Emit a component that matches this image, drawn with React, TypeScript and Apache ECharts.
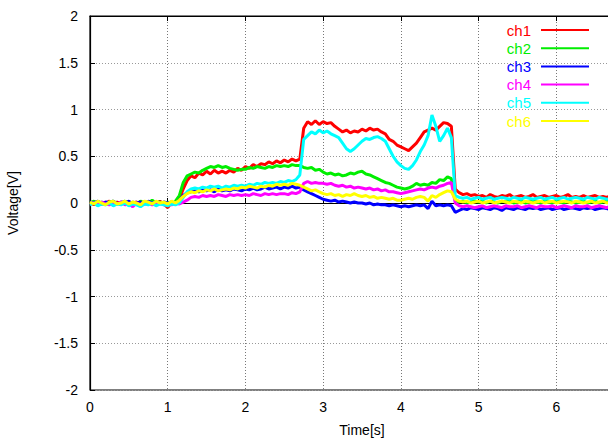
import React, { useEffect, useRef } from "react";
import * as echarts from "echarts";

const STEP = 0.05;
const channelNames = ["ch1", "ch2", "ch3", "ch4", "ch5", "ch6"];
const channelColors = ["#ff0000", "#00ee00", "#0000ff", "#ff00ff", "#00ffff", "#ffff00"];

const ch1 = [
  0.01, -0.02, 0.02, -0.01, 0.0, 0.02, -0.02, 0.01, -0.01, 0.02,
  -0.02, 0.0, 0.01, -0.03, 0.02, -0.01, 0.01, -0.02, 0.02, -0.01,
  -0.05, 0.01, -0.01, 0.05, 0.15, 0.24, 0.29, 0.27, 0.32, 0.3,
  0.34, 0.31, 0.35, 0.32, 0.34, 0.32, 0.35, 0.33, 0.37, 0.35,
  0.39, 0.37, 0.41, 0.39, 0.42, 0.41, 0.44, 0.42, 0.45, 0.43,
  0.46, 0.44, 0.47, 0.45, 0.47, 0.8, 0.87, 0.84, 0.88, 0.84,
  0.87, 0.85, 0.86, 0.82, 0.79, 0.76, 0.78, 0.75, 0.77, 0.76,
  0.79, 0.77, 0.8, 0.78, 0.79, 0.76, 0.74, 0.68, 0.66, 0.62,
  0.6, 0.58, 0.56, 0.6, 0.64, 0.7, 0.76, 0.78, 0.8, 0.78,
  0.82, 0.86, 0.85, 0.82, 0.15, 0.11, 0.09, 0.1, 0.08, 0.09,
  0.07, 0.08, 0.06, 0.09, 0.07, 0.06, 0.08, 0.07, 0.09, 0.06,
  0.07, 0.08, 0.06, 0.07, 0.09, 0.06, 0.07, 0.08, 0.06, 0.07,
  0.08, 0.06, 0.07, 0.09, 0.06, 0.07, 0.06, 0.08, 0.06, 0.07,
  0.08, 0.06, 0.07, 0.06, 0.08,
];

const ch2 = [
  0.0, 0.02, -0.01, 0.01, -0.02, 0.01, 0.02, -0.01, 0.0, 0.02,
  -0.01, 0.01, -0.02, 0.02, 0.0, -0.01, 0.03, 0.0, 0.01, -0.01,
  0.01, -0.01, 0.02, 0.08, 0.22, 0.29, 0.31, 0.33, 0.32, 0.35,
  0.37, 0.39, 0.38, 0.4, 0.38, 0.39, 0.37, 0.36, 0.35, 0.36,
  0.36, 0.38, 0.37, 0.39, 0.38, 0.37, 0.39, 0.38, 0.4, 0.39,
  0.4, 0.39, 0.41, 0.4, 0.4, 0.38, 0.37, 0.38, 0.35, 0.36,
  0.33, 0.31, 0.32, 0.3, 0.31, 0.29, 0.3, 0.32, 0.31, 0.33,
  0.34, 0.31, 0.3, 0.28, 0.26, 0.24, 0.22, 0.21, 0.19, 0.17,
  0.16, 0.15, 0.16, 0.18, 0.21, 0.19, 0.2, 0.19, 0.22, 0.21,
  0.25, 0.24, 0.28, 0.26, 0.03, 0.01, 0.02, 0.0, 0.01, 0.02,
  0.01, 0.02, 0.0, 0.02, 0.01, 0.0, 0.02, 0.01, 0.02, 0.0,
  0.01, 0.02, 0.0, 0.01, 0.02, 0.01, 0.0, 0.02, 0.01, 0.0,
  0.02, 0.01, 0.0, 0.02, 0.01, 0.0, 0.01, 0.02, 0.0, 0.01,
  0.02, 0.0, 0.01, 0.02, 0.01,
];

const ch3 = [
  0.01, 0.0, 0.02, -0.01, 0.01, 0.0, 0.02, -0.01, 0.01, 0.0,
  0.02, -0.01, 0.0, 0.01, -0.01, 0.02, 0.0, 0.01, -0.01, 0.01,
  0.0, 0.01, -0.01, 0.03, 0.08, 0.11, 0.12, 0.13, 0.12, 0.14,
  0.13, 0.14, 0.12, 0.15, 0.13, 0.14, 0.13, 0.15, 0.14, 0.13,
  0.15, 0.14, 0.16, 0.14, 0.15, 0.17, 0.15, 0.16, 0.17, 0.15,
  0.17, 0.16, 0.18, 0.16, 0.17, 0.14, 0.12, 0.1, 0.08, 0.06,
  0.04, 0.03, 0.02, 0.03, 0.01, 0.02, 0.01, 0.0, 0.01, 0.0,
  0.0, -0.01, 0.0, -0.02, -0.01, -0.02, -0.02, -0.03, -0.02, -0.03,
  -0.04, -0.03, -0.04, -0.03, -0.02, -0.03, -0.02, -0.06, 0.02, -0.03,
  -0.02, -0.03, -0.02, -0.03, -0.1, -0.08, -0.06, -0.07, -0.05, -0.06,
  -0.07, -0.05, -0.06, -0.07, -0.05, -0.06, -0.08, -0.05, -0.06, -0.07,
  -0.05, -0.06, -0.07, -0.05, -0.06, -0.05, -0.07, -0.06, -0.05, -0.07,
  -0.06, -0.05, -0.07, -0.06, -0.05, -0.06, -0.07, -0.05, -0.06, -0.05,
  -0.07, -0.06, -0.05, -0.06, -0.07,
];

const ch4 = [
  -0.01, 0.0, -0.02, 0.01, -0.01, -0.02, 0.0, -0.01, 0.01, -0.02,
  -0.01, -0.04, 0.0, -0.02, -0.01, 0.0, -0.02, -0.01, 0.0, -0.02,
  -0.01, -0.02, 0.0, -0.01, 0.01, 0.03, 0.06, 0.07, 0.06, 0.08,
  0.07, 0.08, 0.07, 0.09, 0.08, 0.07, 0.09, 0.08, 0.09, 0.08,
  0.09, 0.08, 0.1, 0.09, 0.08, 0.1, 0.09, 0.1, 0.09, 0.1,
  0.1, 0.09, 0.11, 0.1, 0.12, 0.21, 0.23, 0.21, 0.22, 0.21,
  0.21, 0.2, 0.21, 0.19, 0.18, 0.19, 0.17, 0.18, 0.16, 0.17,
  0.16, 0.15, 0.16, 0.14, 0.15, 0.13, 0.14, 0.12, 0.12, 0.11,
  0.1, 0.11, 0.12, 0.13, 0.14, 0.15, 0.14, 0.16, 0.17, 0.16,
  0.18, 0.19, 0.21, 0.22, 0.0, -0.03, -0.04, -0.03, -0.04, -0.05,
  -0.04, -0.03, -0.05, -0.04, -0.03, -0.04, -0.05, -0.03, -0.04, -0.04,
  -0.03, -0.05, -0.04, -0.03, -0.04, -0.05, -0.03, -0.04, -0.04, -0.03,
  -0.05, -0.04, -0.03, -0.04, -0.05, -0.03, -0.04, -0.04, -0.03, -0.05,
  -0.04, -0.03, -0.04, -0.05, -0.03,
];

const ch5 = [
  -0.02, 0.0, -0.03, -0.01, -0.02, 0.0, -0.03, -0.01, -0.02, 0.0,
  -0.03, -0.01, -0.02, -0.04, -0.01, -0.02, 0.0, -0.03, -0.01, -0.02,
  -0.03, -0.01, -0.02, 0.0, 0.06, 0.12, 0.15, 0.16, 0.15, 0.17,
  0.16, 0.18, 0.17, 0.18, 0.16, 0.18, 0.17, 0.19, 0.18, 0.19,
  0.18, 0.2, 0.19, 0.21, 0.2, 0.22, 0.21, 0.22, 0.21, 0.23,
  0.22, 0.24, 0.23, 0.25, 0.3, 0.68, 0.72, 0.76, 0.74, 0.78,
  0.75, 0.77, 0.74, 0.72, 0.7, 0.64, 0.58, 0.55, 0.58, 0.62,
  0.66, 0.69, 0.68, 0.7, 0.71, 0.69, 0.66, 0.58, 0.5, 0.44,
  0.4, 0.37, 0.36, 0.4, 0.46, 0.55, 0.62, 0.72, 0.94, 0.82,
  0.66, 0.72, 0.8, 0.7, 0.08, 0.06, 0.05, 0.06, 0.04, 0.05,
  0.06, 0.04, 0.05, 0.06, 0.04, 0.05, 0.06, 0.05, 0.04, 0.06,
  0.05, 0.04, 0.06, 0.05, 0.04, 0.05, 0.06, 0.04, 0.05, 0.06,
  0.04, 0.05, 0.06, 0.04, 0.05, 0.06, 0.05, 0.04, 0.06, 0.05,
  0.04, 0.06, 0.05, 0.04, 0.05,
];

const ch6 = [
  0.01, -0.01, 0.02, 0.0, -0.02, 0.01, 0.02, -0.01, 0.0, 0.02,
  -0.01, 0.01, 0.0, -0.02, 0.02, 0.01, -0.01, 0.02, 0.0, 0.01,
  -0.01, 0.02, 0.0, 0.03, 0.07, 0.1, 0.12, 0.11, 0.13, 0.12,
  0.14, 0.13, 0.15, 0.13, 0.14, 0.15, 0.14, 0.16, 0.15, 0.17,
  0.16, 0.18, 0.17, 0.16, 0.18, 0.17, 0.19, 0.18, 0.2, 0.19,
  0.2, 0.19, 0.21, 0.2, 0.19, 0.17, 0.15, 0.13, 0.14, 0.12,
  0.1, 0.09, 0.1, 0.08, 0.09, 0.07, 0.09, 0.08, 0.1, 0.08,
  0.07, 0.08, 0.06, 0.07, 0.05, 0.06, 0.05, 0.04, 0.05, 0.03,
  0.03, 0.04, 0.05, 0.04, 0.06, 0.07, 0.06, 0.02, 0.08, 0.06,
  0.09, 0.11, 0.13, 0.12, 0.04, 0.02, 0.01, 0.02, 0.0, 0.01,
  0.02, 0.0, 0.01, 0.02, 0.0, 0.01, 0.02, 0.01, 0.0, 0.02,
  0.01, 0.0, 0.02, 0.01, 0.0, 0.01, 0.02, 0.0, 0.01, 0.02,
  0.0, 0.01, 0.02, 0.01, 0.0, 0.02, 0.01, 0.0, 0.01, 0.02,
  0.0, 0.01, 0.02, 0.0, 0.01,
];

const channels = [ch1, ch2, ch3, ch4, ch5, ch6];

const FONT = "'Liberation Sans', Arial, Helvetica, sans-serif";

export default function App() {
  const ref = useRef<HTMLDivElement>(null);

  useEffect(() => {
    if (!ref.current) return;
    const chart = echarts.init(ref.current, null, { renderer: "svg" });

    const series = channels.map((vals, k) => ({
      name: channelNames[k],
      type: "line",
      data: vals.map((v, i) => [+(i * STEP).toFixed(2), v]),
      showSymbol: false,
      symbol: "none",
      lineStyle: { color: channelColors[k], width: 3 },
      itemStyle: { color: channelColors[k] },
      clip: true,
    }));

    chart.setOption({
      animation: false,
      backgroundColor: "#ffffff",
      textStyle: { fontFamily: FONT },
      grid: {
        left: 90,
        top: 16,
        width: 544,
        height: 374,
        containLabel: false,
        outerBoundsMode: "none",
        show: true,
        borderColor: "#000",
        borderWidth: 1.2,
        backgroundColor: "transparent",
      },
      legend: {
        orient: "vertical",
        right: 19,
        top: 22,
        padding: 0,
        align: "right",
        icon: "rect",
        itemWidth: 48,
        itemHeight: 2,
        itemGap: 2.2,
        textStyle: { fontSize: 15, lineHeight: 16, fontFamily: FONT, padding: [0, 5, 0, 0] },
        data: channelNames.map((n, k) => ({
          name: n,
          textStyle: { color: channelColors[k] },
        })),
        selectedMode: false,
      },
      xAxis: [
        {
          type: "value",
          min: 0,
          max: 7,
          interval: 1,
          name: "Time[s]",
          nameLocation: "middle",
          nameGap: 33,
          nameTextStyle: { fontSize: 14, color: "#000", fontFamily: FONT },
          axisLine: { show: true, lineStyle: { color: "#000", width: 1.2 } },
          axisTick: { show: true, inside: true, length: 5, lineStyle: { color: "#000" } },
          axisLabel: { fontSize: 14, color: "#000", margin: 10, fontFamily: FONT, showMaxLabel: false },
          splitLine: { show: true, lineStyle: { color: "#777", type: [1, 2], width: 1 } },
        },
        {
          type: "value",
          position: "top",
          min: 0,
          max: 7,
          interval: 1,
          axisLine: { show: true, lineStyle: { color: "#000", width: 1.2 } },
          axisTick: { show: true, inside: true, length: 5, lineStyle: { color: "#000" } },
          axisLabel: { show: false },
          splitLine: { show: false },
        },
      ],
      yAxis: {
        type: "value",
        min: -2,
        max: 2,
        interval: 0.5,
        name: "Voltage[V]",
        nameLocation: "middle",
        nameGap: 70,
        nameRotate: 90,
        nameTextStyle: { fontSize: 14, color: "#000", fontFamily: FONT },
        axisLine: { show: true, lineStyle: { color: "#000", width: 1.2 } },
        axisTick: { show: true, inside: true, length: 5, lineStyle: { color: "#000" } },
        axisLabel: { fontSize: 14, color: "#000", margin: 12, fontFamily: FONT },
        splitLine: { show: true, lineStyle: { color: "#999", type: [1, 2], width: 1 } },
      },
      series,
    });

    return () => chart.dispose();
  }, []);

  return (
    <div
      ref={ref}
      style={{ position: "fixed", left: 0, top: 0, width: 608, height: 446, background: "#fff" }}
    />
  );
}
